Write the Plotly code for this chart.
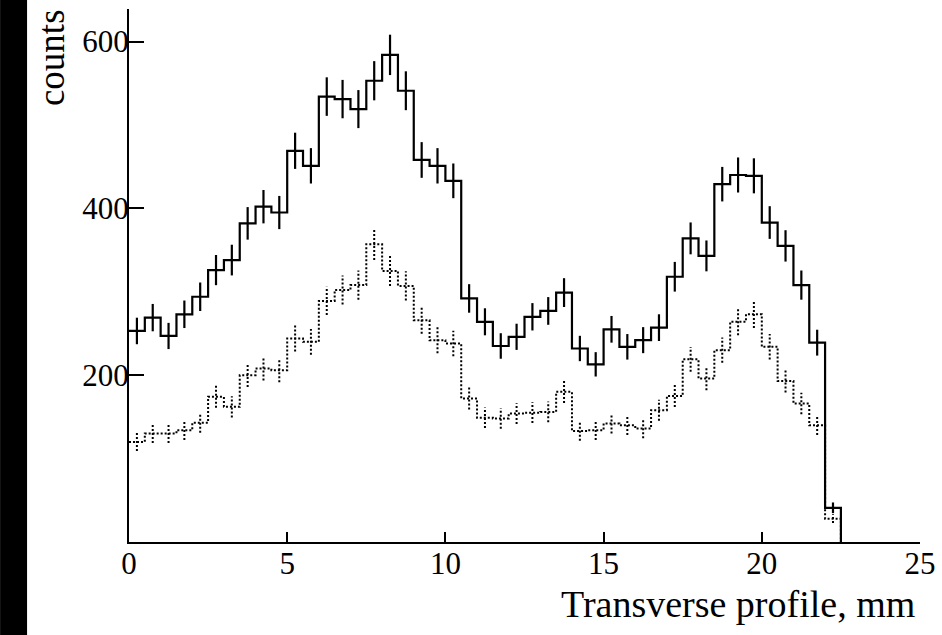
import numpy as np
import plotly.graph_objects as go

# ---- data ----
bin_width_mm = 0.5
solid_counts = [253, 269, 247, 273, 294, 326, 338, 382, 402, 395,
                469, 451, 534, 531, 519, 553, 584, 541, 458, 451,
                433, 292, 264, 235, 246, 270, 277, 299, 232, 213,
                255, 234, 242, 257, 318, 364, 343, 429, 440, 439,
                383, 355, 308, 239, 41]
solid_err = [15.9, 16.4, 15.7, 16.5, 17.1, 18.1, 18.4, 19.5, 20.0, 19.9,
             21.7, 21.2, 23.1, 23.0, 22.8, 23.5, 24.2, 23.3, 21.4, 21.2,
             20.8, 17.1, 16.2, 15.3, 15.7, 16.4, 16.6, 17.3, 15.2, 14.6,
             16.0, 15.3, 15.6, 16.0, 17.8, 19.1, 18.5, 20.7, 21.0, 21.0,
             19.6, 18.8, 17.5, 15.5, 6.4]
dotted_counts = [120, 130, 130, 134, 143, 174, 162, 200, 208, 206,
                 244, 240, 289, 302, 308, 357, 325, 307, 266, 242,
                 238, 172, 149, 148, 154, 155, 156, 180, 133, 134,
                 142, 140, 136, 158, 175, 219, 196, 230, 264, 273,
                 234, 193, 166, 140, 28]
dotted_err = [11.0, 11.4, 11.4, 11.6, 12.0, 13.2, 12.7, 14.1, 14.4, 14.4,
              15.6, 15.5, 17.0, 17.4, 17.5, 18.9, 18.0, 17.5, 16.3, 15.6,
              15.4, 13.1, 12.2, 12.2, 12.4, 12.4, 12.5, 13.4, 11.5, 11.6,
              11.9, 11.8, 11.7, 12.6, 13.2, 14.8, 14.0, 15.2, 16.2, 16.5,
              15.3, 13.9, 12.9, 11.8, 5.3]
x_tick_vals = [0, 5, 10, 15, 20, 25]
y_tick_vals = [200, 400, 600]
x_title = "Transverse profile, mm"
y_title = "counts"

FONT = "Liberation Serif"


def step_xy(counts):
    n = len(counts)
    edges = np.arange(n + 1) * bin_width_mm
    xs = list(edges) + [edges[-1]]
    ys = list(counts) + [counts[-1], 0]
    return xs, ys


def err_xy(counts, errs):
    n = len(counts)
    centers = (np.arange(n) + 0.5) * bin_width_mm
    xs, ys = [], []
    for c, v, e in zip(centers, counts, errs):
        xs += [c, c, None]
        ys += [v - e, v + e, None]
    return xs, ys


fig = go.Figure()

# dotted histogram
dx, dy = step_xy(dotted_counts)
fig.add_trace(go.Scatter(x=dx, y=dy, mode="lines", line_shape="hv",
                         line=dict(color="black", width=2, dash="2px,2px"),
                         showlegend=False, hoverinfo="skip"))
ex, ey = err_xy(dotted_counts, dotted_err)
fig.add_trace(go.Scatter(x=ex, y=ey, mode="lines",
                         line=dict(color="black", width=2, dash="2px,2px"),
                         showlegend=False, hoverinfo="skip"))

# solid histogram
sx, sy = step_xy(solid_counts)
fig.add_trace(go.Scatter(x=sx, y=sy, mode="lines", line_shape="hv",
                         line=dict(color="black", width=2.2),
                         showlegend=False, hoverinfo="skip"))
ex, ey = err_xy(solid_counts, solid_err)
fig.add_trace(go.Scatter(x=ex, y=ey, mode="lines",
                         line=dict(color="black", width=2.2),
                         showlegend=False, hoverinfo="skip"))

W, H = 942, 635
L, R, T, B = 129, 21.5, 9, 93.3
pw = W - L - R
ph = H - T - B

fig.update_layout(
    width=W, height=H,
    margin=dict(l=L, r=R, t=T, b=B, pad=0, autoexpand=False),
    paper_bgcolor="white", plot_bgcolor="white",
    font=dict(family=FONT, color="black", size=31),
    xaxis=dict(range=[0, 25], tickvals=x_tick_vals, ticks="inside",
               ticklen=10, tickwidth=2, tickcolor="black",
               showline=True, linecolor="black", linewidth=2,
               showgrid=False, zeroline=False, ticklabelstandoff=-7,
               tickfont=dict(family=FONT, size=31, color="black")),
    yaxis=dict(range=[0, 639], tickvals=y_tick_vals, ticks="inside",
               ticklen=15, tickwidth=2, tickcolor="black",
               showline=True, linecolor="black", linewidth=2,
               showgrid=False, zeroline=False, ticklabelstandoff=-8,
               tickfont=dict(family=FONT, size=31, color="black")),
    shapes=[dict(type="rect", xref="paper", yref="paper",
                 x0=(0 - L) / pw, x1=(27 - L) / pw, y0=-1, y1=2,
                 fillcolor="black", line=dict(width=0), layer="below")],
    annotations=[
        dict(text=y_title, xref="paper", yref="paper",
             x=(51 - L) / pw, y=(H - B - 58) / ph, textangle=-90,
             xanchor="center", yanchor="middle", showarrow=False,
             font=dict(family=FONT, size=37, color="black")),
        dict(text=x_title, xref="paper", yref="paper",
             x=(917 - L) / pw, y=(H - B - 604) / ph,
             xanchor="right", yanchor="middle", showarrow=False,
             font=dict(family=FONT, size=38, color="black")),
    ],
)

fig.write_html("out.html",
               config={"displayModeBar": False},
               post_script="document.body.style.margin='0';"
                           "document.body.style.overflow='hidden';")
